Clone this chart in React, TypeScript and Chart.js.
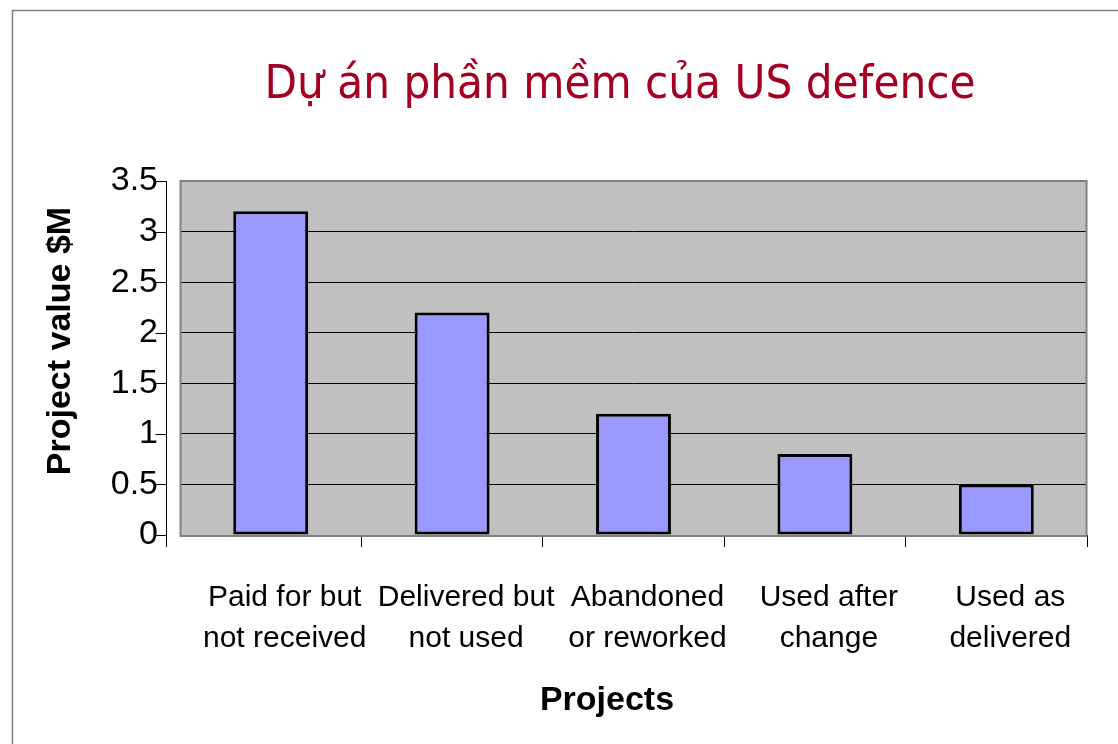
import React, { useEffect, useRef } from "react";
import { Chart, registerables } from "chart.js";

Chart.register(...registerables);

const TITLE = "Dự án phần mềm của US defence";
const Y_TITLE = "Project value $M";
const X_TITLE = "Projects";
const categories: string[][] = [
  ["Paid for but", "not received"],
  ["Delivered but", "not used"],
  ["Abandoned", "or reworked"],
  ["Used after", "change"],
  ["Used as", "delivered"],
];
const values: number[] = [3.2, 2.2, 1.2, 0.8, 0.5];
const Y_MIN = 0;
const Y_MAX = 3.5;
const Y_STEP = 0.5;

const W = 1118;
const H = 744;

const decorPlugin = {
  id: "decor",
  beforeDraw(chart: any) {
    const { ctx, chartArea } = chart;
    ctx.save();
    ctx.fillStyle = "#ffffff";
    ctx.fillRect(0, 0, chart.width, chart.height);
    // outer frame
    ctx.strokeStyle = "#808080";
    ctx.lineWidth = 1.5;
    ctx.beginPath();
    ctx.moveTo(12.5, chart.height + 2);
    ctx.lineTo(12.5, 10.5);
    ctx.lineTo(chart.width + 2, 10.5);
    ctx.stroke();
    // plot background
    ctx.fillStyle = "#c0c0c0";
    ctx.fillRect(chartArea.left, chartArea.top, chartArea.right - chartArea.left, chartArea.bottom - chartArea.top);
    ctx.restore();
  },
  beforeDatasetsDraw(chart: any) {
    const { ctx, chartArea } = chart;
    ctx.save();
    ctx.strokeStyle = "#808080";
    ctx.lineWidth = 2;
    ctx.strokeRect(chartArea.left + 0.5, chartArea.top, chartArea.right - chartArea.left - 1, chartArea.bottom - chartArea.top + 1);
    ctx.restore();
  },
  afterDraw(chart: any) {
    const { ctx, chartArea } = chart;
    const y = chart.scales.y;
    ctx.save();
    // y axis line offset from plot
    const ax = chartArea.left - 13.5;
    ctx.strokeStyle = "#000000";
    ctx.lineWidth = 1;
    ctx.beginPath();
    ctx.moveTo(ax, chartArea.top);
    ctx.lineTo(ax, chartArea.bottom + 12);
    y.ticks.forEach((t: any) => {
      const py = Math.round(y.getPixelForValue(t.value)) + 0.5;
      ctx.moveTo(ax - 11, py);
      ctx.lineTo(ax, py);
    });
    ctx.stroke();

    // main title
    ctx.fillStyle = "#a50021";
    ctx.font = '47px "DejaVu Sans Condensed", "DejaVu Sans", sans-serif';
    ctx.textAlign = "center";
    ctx.textBaseline = "alphabetic";
    ctx.fillText(TITLE, 620, 98);

    // axis titles
    ctx.fillStyle = "#000000";
    ctx.font = 'bold 34px "Liberation Sans", Arial, sans-serif';
    ctx.fillText(X_TITLE, 607, 710);
    ctx.translate(70, 341);
    ctx.rotate(-Math.PI / 2);
    ctx.fillText(Y_TITLE, 0, 0);
    ctx.restore();
  },
};

export default function App() {
  const ref = useRef<HTMLCanvasElement | null>(null);
  useEffect(() => {
    if (!ref.current) return;
    const chart = new Chart(ref.current, {
      type: "bar",
      data: {
        labels: categories,
        datasets: [
          {
            data: values,
            backgroundColor: "#9999ff",
            borderColor: "#000000",
            borderWidth: 3,
            borderSkipped: false,
            categoryPercentage: 1,
            barPercentage: 0.413,
          },
        ],
      },
      options: {
        responsive: false,
        animation: false,
        layout: { padding: { top: 181, right: 31, left: 0, bottom: 0 } },
        plugins: {
          legend: { display: false },
          title: { display: false },
          tooltip: { enabled: false },
        },
        scales: {
          x: {
            type: "category",
            offset: true,
            grid: {
              offset: true,
              drawOnChartArea: false,
              drawTicks: true,
              tickLength: 12,
              lineWidth: 1,
              color: (c: any) => (c.index === 0 ? "rgba(0,0,0,0)" : "#000000"),
            },
            border: { display: false },
            ticks: {
              color: "#000000",
              font: { family: '"Liberation Sans", Arial, sans-serif', size: 30, lineHeight: 1.37 },
              padding: 30,
              labelOffset: 14,
              maxRotation: 0,
              autoSkip: false,
            },
            afterFit(scale: any) {
              scale.height = 209;
            },
          },
          y: {
            min: Y_MIN,
            max: Y_MAX,
            grid: {
              drawTicks: false,
              color: "#000000",
              lineWidth: 1,
            },
            border: { display: false },
            ticks: {
              stepSize: Y_STEP,
              color: "#000000",
              font: { family: '"Liberation Sans", Arial, sans-serif', size: 34 },
              padding: 22,
              callback: (v: any) => String(Number(v)),
            },
            afterFit(scale: any) {
              scale.width = 180;
            },
          },
        },
      },
      plugins: [decorPlugin],
    });
    return () => chart.destroy();
  }, []);
  return (
    <div style={{ position: "fixed", left: 0, top: 0, width: W, height: H, background: "#fff" }}>
      <canvas ref={ref} width={W} height={H} style={{ display: "block" }} />
    </div>
  );
}
